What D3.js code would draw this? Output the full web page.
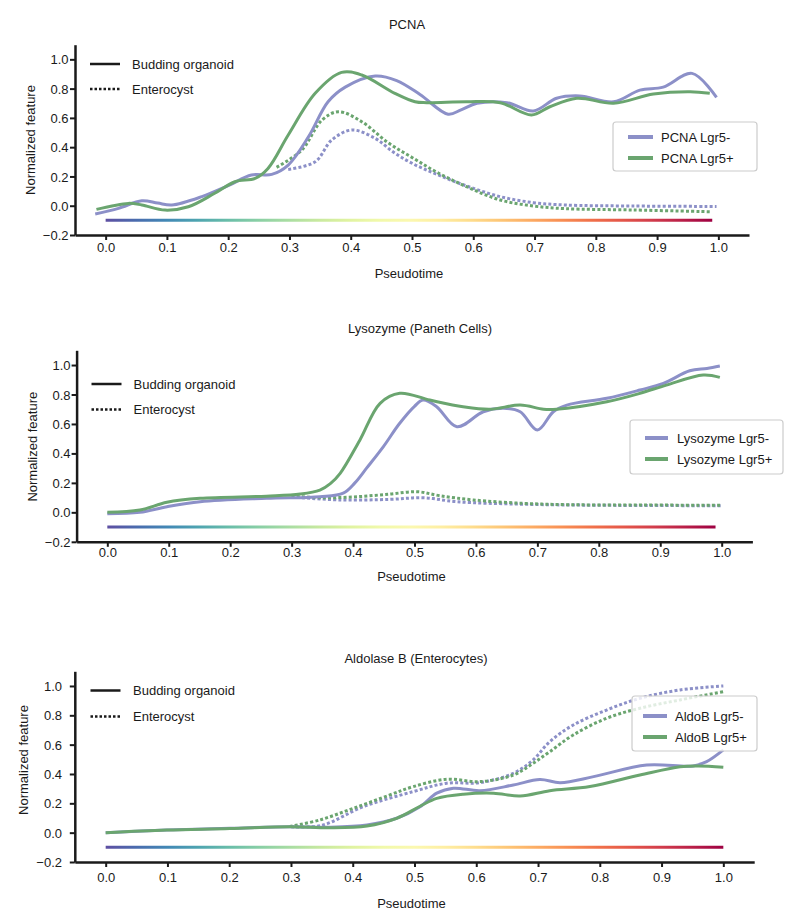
<!DOCTYPE html>
<html><head><meta charset="utf-8">
<script src="https://cdn.jsdelivr.net/npm/d3@7"></script>
<style>
body{margin:0;background:#fff}
svg{display:block}
text{font-family:"Liberation Sans",Arial,Helvetica,sans-serif;fill:#1a1a1a}
</style>
</head><body>
<svg id="c" width="800" height="924"></svg>
<script>
// ---------------- DATA ----------------
const titles = ["PCNA", "Lysozyme (Paneth Cells)", "Aldolase B (Enterocytes)"];
const seriesLabels = [["PCNA Lgr5-", "PCNA Lgr5+"], ["Lysozyme Lgr5-", "Lysozyme Lgr5+"], ["AldoB Lgr5-", "AldoB Lgr5+"]];
const styleLabels = ["Budding organoid", "Enterocyst"];
const xLabel = "Pseudotime";
const yLabel = "Normalized feature";
const xTicks = [0, 0.1, 0.2, 0.3, 0.4, 0.5, 0.6, 0.7, 0.8, 0.9, 1.0];
const yTicks = [-0.2, 0, 0.2, 0.4, 0.6, 0.8, 1.0];
const colorbarLevel = -0.1;
const colorbarExtent = [[0, 0.99], [0, 0.99], [0, 1.0]];

// PCNA
const pcnaNegBud = [[-0.017,-0.057],[0.021,-0.018],[0.059,0.034],[0.085,0.018],[0.108,0.005],[0.157,0.062],[0.200,0.137],[0.238,0.21],[0.271,0.214],[0.298,0.278],[0.331,0.47],[0.363,0.71],[0.391,0.81],[0.44,0.886],[0.475,0.855],[0.513,0.76],[0.559,0.625],[0.58,0.655],[0.606,0.70],[0.655,0.704],[0.698,0.647],[0.736,0.734],[0.774,0.75],[0.829,0.71],[0.872,0.79],[0.91,0.81],[0.957,0.904],[0.997,0.74]];
const pcnaPosBud = [[-0.015,-0.025],[0.037,0.016],[0.059,0.005],[0.097,-0.03],[0.135,-0.007],[0.178,0.085],[0.211,0.164],[0.244,0.187],[0.265,0.255],[0.298,0.483],[0.342,0.768],[0.385,0.911],[0.418,0.893],[0.472,0.768],[0.505,0.71],[0.524,0.704],[0.589,0.71],[0.644,0.704],[0.695,0.62],[0.725,0.676],[0.769,0.734],[0.829,0.70],[0.894,0.763],[0.954,0.779],[0.986,0.768]];
const pcnaNegEnt = [[0.298,0.248],[0.342,0.30],[0.369,0.449],[0.402,0.517],[0.44,0.46],[0.47,0.365],[0.5,0.29],[0.54,0.215],[0.589,0.135],[0.644,0.062],[0.698,0.021],[0.75,0.005],[0.86,-0.002],[0.997,-0.005]];
const pcnaPosEnt = [[0.279,0.262],[0.32,0.38],[0.353,0.585],[0.38,0.642],[0.418,0.574],[0.461,0.43],[0.5,0.33],[0.54,0.23],[0.589,0.13],[0.644,0.039],[0.698,-0.002],[0.75,-0.02],[0.861,-0.029],[0.986,-0.041]];

// Lysozyme
const lysoNegBud = [[0,-0.01],[0.053,0.0],[0.097,0.038],[0.151,0.072],[0.259,0.095],[0.346,0.106],[0.384,0.13],[0.403,0.2],[0.422,0.30],[0.45,0.45],[0.475,0.60],[0.5,0.72],[0.514,0.762],[0.536,0.717],[0.569,0.581],[0.612,0.683],[0.645,0.706],[0.672,0.683],[0.70,0.559],[0.726,0.683],[0.748,0.728],[0.813,0.774],[0.867,0.83],[0.905,0.875],[0.948,0.961],[0.976,0.977],[0.997,0.993]];
const lysoPosBud = [[0,0],[0.053,0.016],[0.097,0.068],[0.151,0.095],[0.259,0.11],[0.314,0.124],[0.346,0.151],[0.363,0.195],[0.379,0.265],[0.411,0.49],[0.444,0.74],[0.476,0.808],[0.525,0.762],[0.579,0.717],[0.623,0.70],[0.672,0.728],[0.71,0.70],[0.731,0.70],[0.813,0.751],[0.867,0.808],[0.91,0.864],[0.97,0.932],[0.997,0.916]];
const lysoNegEnt = [[0.30,0.105],[0.379,0.084],[0.46,0.088],[0.514,0.099],[0.569,0.072],[0.677,0.055],[0.8,0.048],[1.0,0.045]];
const lysoPosEnt = [[0.30,0.11],[0.352,0.099],[0.406,0.106],[0.46,0.124],[0.504,0.14],[0.541,0.113],[0.596,0.084],[0.677,0.061],[0.75,0.052],[0.85,0.05],[1.0,0.048]];

// Aldolase B
const aldoNegBud = [[0,0],[0.099,0.018],[0.201,0.03],[0.298,0.041],[0.363,0.037],[0.423,0.052],[0.471,0.098],[0.509,0.177],[0.536,0.269],[0.563,0.303],[0.606,0.286],[0.66,0.325],[0.703,0.362],[0.736,0.341],[0.79,0.382],[0.876,0.461],[0.951,0.455],[0.973,0.484],[1.0,0.564]];
const aldoPosBud = [[0,0],[0.099,0.018],[0.201,0.028],[0.298,0.041],[0.363,0.033],[0.423,0.045],[0.471,0.098],[0.509,0.18],[0.536,0.234],[0.579,0.262],[0.628,0.269],[0.671,0.25],[0.719,0.286],[0.784,0.314],[0.865,0.393],[0.93,0.45],[0.96,0.455],[1.0,0.446]];
const aldoNegEnt = [[0.30,0.04],[0.35,0.05],[0.417,0.177],[0.498,0.28],[0.552,0.337],[0.606,0.341],[0.66,0.405],[0.692,0.496],[0.719,0.62],[0.757,0.734],[0.811,0.836],[0.865,0.916],[0.93,0.973],[1.0,1.0]];
const aldoPosEnt = [[0.298,0.042],[0.347,0.087],[0.401,0.166],[0.46,0.257],[0.498,0.314],[0.552,0.364],[0.606,0.348],[0.66,0.393],[0.692,0.473],[0.719,0.552],[0.757,0.666],[0.811,0.78],[0.865,0.848],[0.93,0.905],[1.0,0.961]];

const panelSeries = [
  {negBud: pcnaNegBud, posBud: pcnaPosBud, negEnt: pcnaNegEnt, posEnt: pcnaPosEnt},
  {negBud: lysoNegBud, posBud: lysoPosBud, negEnt: lysoNegEnt, posEnt: lysoPosEnt},
  {negBud: aldoNegBud, posBud: aldoPosBud, negEnt: aldoNegEnt, posEnt: aldoPosEnt}
];

// ---------------- LAYOUT / STYLE ----------------
const colNeg = "#8c90c8", colPos = "#6aa56f";
const layouts = [
  {xr:[75,749], yr:[235,44.7], title:[407,29], xlabY:278, ylab:[35,140], tickRight:68.5, xTickY:251.5,
   legL:{x1:90,x2:120,y1:64,y2:89,tx:132}, legR:{x:613,y:122,w:144,h:49,lx1:628,lx2:653,ly1:137,ly2:158,tx:661}},
  {xr:[76.6,752.4], yr:[541.8,350.3], title:[420,333], xlabY:580.5, ylab:[37,446.7], tickRight:70.5, xTickY:557,
   legL:{x1:91.5,x2:121.5,y1:384,y2:409.5,tx:133.5}, legR:{x:630,y:420,w:153,h:54,lx1:645,lx2:668,ly1:438,ly2:459,tx:677}},
  {xr:[74.8,754.2], yr:[862,671.3], title:[416,663], xlabY:908, ylab:[28,760], tickRight:62, xTickY:882,
   legL:{x1:90.5,x2:120.5,y1:690.5,y2:716.5,tx:133}, legR:{x:632,y:696,w:125,h:55,lx1:643,lx2:667,ly1:716,ly2:737,tx:675}}
];

const svg = d3.select("#c");
const defs = svg.append("defs");
const fmt = d3.format(".1f");

layouts.forEach((L, i) => {
  const S = panelSeries[i];
  const x = d3.scaleLinear().domain([-0.05, 1.05]).range(L.xr);
  const y = d3.scaleLinear().domain([-0.2, 1.1]).range(L.yr);
  const g = svg.append("g");

  g.append("text").attr("x", L.title[0]).attr("y", L.title[1]).attr("text-anchor", "middle")
    .attr("font-size", 13).text(titles[i]);

  // colorbar line (Spectral_r)
  const ext = colorbarExtent[i];
  const gid = "cb" + i;
  const grad = defs.append("linearGradient").attr("id", gid).attr("gradientUnits", "userSpaceOnUse")
    .attr("x1", x(ext[0])).attr("x2", x(ext[1])).attr("y1", 0).attr("y2", 0);
  d3.range(0, 1.0001, 0.05).forEach(f => {
    grad.append("stop").attr("offset", f).attr("stop-color", d3.interpolateSpectral(1 - f));
  });
  g.append("line").attr("x1", x(ext[0])).attr("x2", x(ext[1]))
    .attr("y1", y(colorbarLevel)).attr("y2", y(colorbarLevel))
    .attr("stroke", `url(#${gid})`).attr("stroke-width", 3);

  const line = d3.line().x(d => x(d[0])).y(d => y(d[1])).curve(d3.curveCatmullRom.alpha(0.5));
  const draw = (data, col, dashed) => {
    g.append("path").attr("d", line(data)).attr("fill", "none").attr("stroke", col)
      .attr("stroke-width", 3).attr("stroke-dasharray", dashed ? "3,2.2" : null)
      .attr("stroke-linejoin", "round");
  };
  draw(S.negEnt, colNeg, true);
  draw(S.posEnt, colPos, true);
  draw(S.negBud, colNeg, false);
  draw(S.posBud, colPos, false);

  const xAxis = d3.axisBottom(x).tickValues(xTicks).tickFormat(fmt).tickSize(5).tickSizeOuter(0);
  const yAxis = d3.axisLeft(y).tickValues(yTicks).tickFormat(fmt).tickSize(5).tickSizeOuter(0);
  const gx = g.append("g").attr("transform", `translate(0,${L.yr[0]})`).call(xAxis);
  const gy = g.append("g").attr("transform", `translate(${L.xr[0]},0)`).call(yAxis);
  [gx, gy].forEach(a => {
    a.select(".domain").attr("stroke", "#1a1a1a").attr("stroke-width", 2.5);
    a.selectAll(".tick line").attr("stroke", "#1a1a1a").attr("stroke-width", 2);
    a.selectAll(".tick text").attr("font-size", 13).attr("fill", "#1a1a1a")
      .attr("font-family", '"Liberation Sans",Arial,sans-serif');
  });
  gx.selectAll(".tick text").attr("dy", null).attr("y", L.xTickY - L.yr[0]).attr("dominant-baseline", "auto");
  gy.selectAll(".tick text").attr("x", L.tickRight - L.xr[0]).attr("dy", "0.35em");

  g.append("text").attr("x", (L.xr[0] + L.xr[1]) / 2 - 3).attr("y", L.xlabY).attr("text-anchor", "middle")
    .attr("font-size", 13).text(xLabel);
  g.append("text").attr("transform", `translate(${L.ylab[0]},${L.ylab[1]}) rotate(-90)`)
    .attr("text-anchor", "middle").attr("font-size", 13).text(yLabel);

  const ll = L.legL;
  g.append("line").attr("x1", ll.x1).attr("x2", ll.x2).attr("y1", ll.y1).attr("y2", ll.y1)
    .attr("stroke", "#1a1a1a").attr("stroke-width", 2.5);
  g.append("line").attr("x1", ll.x1).attr("x2", ll.x2).attr("y1", ll.y2).attr("y2", ll.y2)
    .attr("stroke", "#1a1a1a").attr("stroke-width", 2.5).attr("stroke-dasharray", "2.5,2");
  g.append("text").attr("x", ll.tx).attr("y", ll.y1).attr("dy", "0.35em").attr("font-size", 13).text(styleLabels[0]);
  g.append("text").attr("x", ll.tx).attr("y", ll.y2).attr("dy", "0.35em").attr("font-size", 13).text(styleLabels[1]);

  const lr = L.legR;
  g.append("rect").attr("x", lr.x).attr("y", lr.y).attr("width", lr.w).attr("height", lr.h)
    .attr("rx", 3).attr("fill", "#fff").attr("fill-opacity", 0.8).attr("stroke", "#cccccc").attr("stroke-width", 1.2);
  [[colNeg, lr.ly1], [colPos, lr.ly2]].forEach((e, k) => {
    g.append("line").attr("x1", lr.lx1).attr("x2", lr.lx2).attr("y1", e[1]).attr("y2", e[1])
      .attr("stroke", e[0]).attr("stroke-width", 4);
    g.append("text").attr("x", lr.tx).attr("y", e[1]).attr("dy", "0.35em").attr("font-size", 13).text(seriesLabels[i][k]);
  });
});
</script>
</body></html>
